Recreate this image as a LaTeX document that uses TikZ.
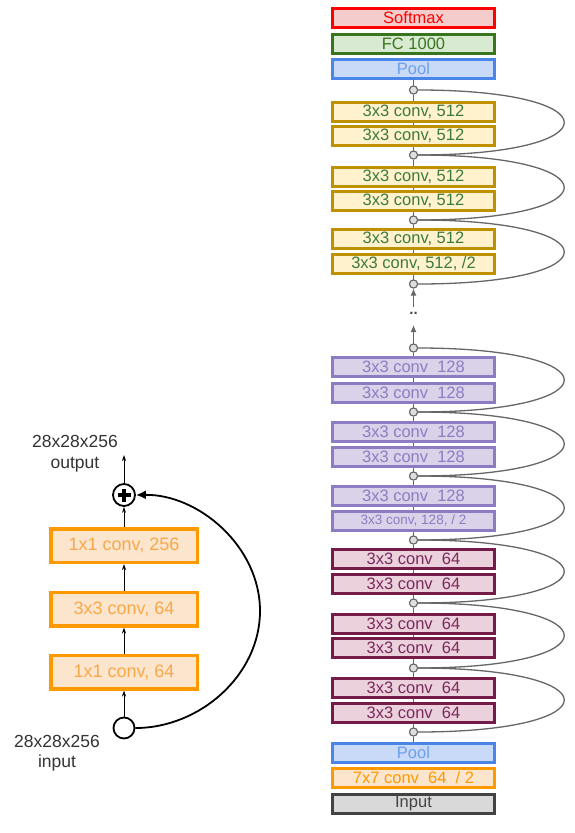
\documentclass[tikz,border=0pt]{standalone}
\usepackage{fontspec}
\setmainfont{Liberation Sans}
\usetikzlibrary{arrows.meta}
\definecolor{smB}{HTML}{FF0000}\definecolor{smF}{HTML}{F4CCCC}
\definecolor{fcB}{HTML}{38761D}\definecolor{fcF}{HTML}{D9EAD3}
\definecolor{plB}{HTML}{4A86E8}\definecolor{plF}{HTML}{C9DAF8}\definecolor{plT}{HTML}{6D9EEB}
\definecolor{gB}{HTML}{BF9000}\definecolor{gF}{HTML}{FFF2CC}\definecolor{gT}{HTML}{3C7A3C}
\definecolor{pB}{HTML}{8E7CC3}\definecolor{pF}{HTML}{D9D2E9}
\definecolor{mB}{HTML}{741B47}\definecolor{mF}{HTML}{EAD1DC}\definecolor{mT}{HTML}{7A2A5C}
\definecolor{oB}{HTML}{FF9900}\definecolor{oF}{HTML}{FCE5CD}\definecolor{oT}{HTML}{F8A848}
\definecolor{iB}{HTML}{434343}\definecolor{iF}{HTML}{D9D9D9}
\definecolor{lineG}{HTML}{666666}
\begin{document}
\begin{tikzpicture}[x=1pt,y=-1pt,
  blk/.style={draw, line width=3pt, minimum width=162pt, minimum height=19pt, inner sep=0pt,
    font=\fontsize{16.5}{16.5}\selectfont},
  sm/.style={blk, draw=smB, fill=smF, text=smB},
  fcs/.style={blk, draw=fcB, fill=fcF, text=fcB},
  pls/.style={blk, draw=plB, fill=plF, text=plT},
  gs/.style={blk, draw=gB, fill=gF, text=gT},
  ps/.style={blk, draw=pB, fill=pF, text=pB},
  ms/.style={blk, draw=mB, fill=mF, text=mT},
  os/.style={blk, draw=oB, fill=oF, text=oB},
  ins/.style={blk, draw=iB, fill=iF, text=iB},
  jn/.style={circle, draw=lineG, fill=gray!25, line width=1pt, minimum size=8pt, inner sep=0pt},
  vline/.style={draw=lineG, line width=1.2pt},
  skip/.style={draw=lineG, line width=1.3pt},
  varr/.style={draw=lineG, line width=1.2pt, -{Latex[length=7pt,width=6pt]}},
  lbox/.style={draw=oB, line width=3.5pt, fill=oF, text=oT, minimum width=146.5pt, minimum height=33.5pt,
    inner sep=0pt, font=\fontsize{18}{18}\selectfont},
  larr/.style={draw=black, line width=0.8pt, -{Stealth[length=6pt,width=4pt]}},
  lbl/.style={text=black!80, font=\fontsize{17.5}{17.5}\selectfont, inner sep=0pt}
]
\useasboundingbox (0,0) rectangle (574,833);
\def\cx{413.5}
% top of right column
\node[sm]  (sm) at (\cx,18)  {Softmax};
\node[fcs] (fc) at (\cx,43.5){FC 1000};
\node[pls] (pt) at (\cx,68.5){Pool};
\node[jn] (c1) at (\cx,90) {};
\node[jn] (c2) at (\cx,155) {};
\node[jn] (c3) at (\cx,220) {};
\node[jn] (c4) at (\cx,284) {};
\node[jn] (e1) at (\cx,348) {};
\node[jn] (e2) at (\cx,412) {};
\node[jn] (e3) at (\cx,476) {};
\node[jn] (e4) at (\cx,540) {};
\node[jn] (e5) at (\cx,603) {};
\node[jn] (e6) at (\cx,668) {};
\node[jn] (e7) at (\cx,732) {};
% boxes
\node[gs] (a1) at (\cx,111.5) {3x3 conv, 512};
\node[gs] (a2) at (\cx,136)   {3x3 conv, 512};
\node[gs] (a3) at (\cx,176.5) {3x3 conv, 512};
\node[gs] (a4) at (\cx,201)   {3x3 conv, 512};
\node[gs] (a5) at (\cx,239)   {3x3 conv, 512};
\node[gs] (a6) at (\cx,264)   {3x3 conv, 512, /2};
\node[ps] (b1) at (\cx,367)   {3x3 conv~ 128};
\node[ps] (b2) at (\cx,392.5) {3x3 conv~ 128};
\node[ps] (b3) at (\cx,432)   {3x3 conv~ 128};
\node[ps] (b4) at (\cx,456.5) {3x3 conv~ 128};
\node[ps] (b5) at (\cx,495.5) {3x3 conv~ 128};
\node[ps, font=\fontsize{13.5}{13.5}\selectfont] (b6) at (\cx,520.5) {3x3 conv, 128, / 2};
\node[ms] (d1) at (\cx,559)   {3x3 conv~ 64};
\node[ms] (d2) at (\cx,584)   {3x3 conv~ 64};
\node[ms] (d3) at (\cx,624)   {3x3 conv~ 64};
\node[ms] (d4) at (\cx,648)   {3x3 conv~ 64};
\node[ms] (d5) at (\cx,687.5) {3x3 conv~ 64};
\node[ms] (d6) at (\cx,712.5) {3x3 conv~ 64};
\node[pls] (pb) at (\cx,753) {Pool};
\node[os]  (cv) at (\cx,778) {7x7 conv~ 64~ / 2};
\node[ins] (in) at (\cx,804) {Input};
% short gray connectors between blocks
\foreach \u/\v in {pb/e7, e7/d6, d6/d5, d5/e6, e6/d4, d4/d3, d3/e5, e5/d2, d2/d1, d1/e4,
                   e4/b6, b6/b5, b5/e3, e3/b4, b4/b3, b3/e2, e2/b2, b2/b1, b1/e1,
                   c4/a6, a6/a5, a5/c3, c3/a4, a4/a3, a3/c2, c2/a2, a2/a1, a1/c1, c1/pt}
  \draw[vline] (\u) -- (\v);
% redraw junctions on top
\foreach \n in {c1,c2,c3,c4,e1,e2,e3,e4,e5,e6,e7}
  \node[jn] at (\n) {};
% gap with dots
\coordinate (g1) at (\cx,325);
\coordinate (g2) at (\cx,307);
\draw[varr] (e1) -- (g1);
\draw[varr] (g2) -- (c4);
\node[text=black!70, font=\fontsize{15}{15}\selectfont\bfseries, inner sep=0pt] (dots) at (\cx,313) {..};
% skip arcs
\foreach \u/\v in {e7/e6, e6/e5, e5/e4, e4/e3, e3/e2, e2/e1, c4/c3, c3/c2, c2/c1}
  \draw[skip] (\u.east) .. controls +(195,0) and +(195,0) .. (\v.east);
% left bottleneck block
\node[lbox] (l3) at (124,545.5) {1x1 conv, 256};
\node[lbox] (l2) at (124,609)   {3x3 conv, 64};
\node[lbox] (l1) at (124,672)   {1x1 conv, 64};
\node[circle, draw=black, line width=1.8pt, fill=white, minimum size=21pt, inner sep=0pt] (xin) at (124,728) {};
\node[circle, draw=black, line width=1.8pt, fill=white, minimum size=22pt, inner sep=0pt] (plus) at (124,495) {};
\draw[line width=3.2pt] ([xshift=-6.5pt]plus.center) -- ([xshift=6.5pt]plus.center);
\draw[line width=3.2pt] ([yshift=-6.5pt]plus.center) -- ([yshift=6.5pt]plus.center);
\coordinate (out) at (124,455);
\draw[larr] (xin) -- (l1);
\draw[larr] (l1) -- (l2);
\draw[larr] (l2) -- (l3);
\draw[larr] (l3) -- (plus);
\draw[larr] (plus) -- (out);
\coordinate (arcR) at (260,611);
\draw[line width=1.8pt, -{Latex[length=10pt,width=9pt]}]
  (xin.east) .. controls (200,728) and (260,675) .. (arcR)
  .. controls (260,546) and (198,494) .. (plus.east);
\node[lbl, anchor=base] (olab1) at (75,447) {28x28x256};
\node[lbl, anchor=base] (olab2) at (75,468) {output};
\node[lbl, anchor=base] (ilab1) at (57,747) {28x28x256};
\node[lbl, anchor=base] (ilab2) at (57,767) {input};
\end{tikzpicture}
\end{document}
